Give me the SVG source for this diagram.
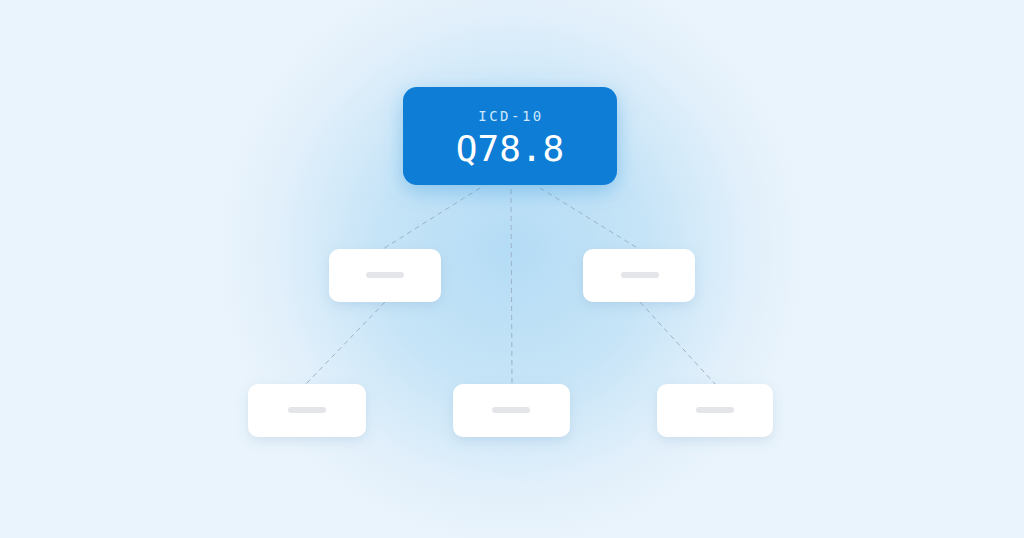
<svg xmlns="http://www.w3.org/2000/svg" width="1024" height="538" viewBox="0 0 1024 538">
<defs>
<radialGradient id="glow" cx="512" cy="250" r="300" gradientUnits="userSpaceOnUse">
<stop offset="0" stop-color="#b4dcf5"/>
<stop offset="0.45" stop-color="#c6e4f7"/>
<stop offset="0.8" stop-color="#e2f0fb"/>
<stop offset="1" stop-color="#eaf4fc"/>
</radialGradient>
<filter id="sh" x="-30%" y="-40%" width="160%" height="200%">
<feDropShadow dx="0" dy="4" stdDeviation="6" flood-color="#5a8db5" flood-opacity="0.18"/>
</filter>
<filter id="shTop" x="-30%" y="-40%" width="160%" height="200%">
<feDropShadow dx="0" dy="6" stdDeviation="10" flood-color="#0b7dd6" flood-opacity="0.3"/>
</filter>
<style>
.card{fill:#ffffff;filter:url(#sh)}
.bar{fill:#e3e5e8}
.conn{stroke:#9db3c6;stroke-width:1;stroke-dasharray:5 4;fill:none}
.mono{font-family:"DejaVu Sans Mono","Liberation Mono",monospace;text-anchor:middle}
</style>
</defs>
<rect width="1024" height="538" fill="#eaf4fc"/>
<rect width="1024" height="538" fill="url(#glow)"/>
<g id="connectors">
<line class="conn" x1="480" y1="188" x2="383" y2="249"/>
<line class="conn" x1="511" y1="189" x2="512" y2="383"/>
<line class="conn" x1="540" y1="188" x2="639" y2="249"/>
<line class="conn" x1="385" y1="302" x2="306" y2="384"/>
<line class="conn" x1="640" y1="302" x2="715" y2="384"/>
</g>
<g id="root">
<rect x="403" y="87" width="214" height="98" rx="14" fill="#0b7dd6" filter="url(#shTop)"/>
<text class="mono" x="511" y="121" font-size="14" letter-spacing="2.5" fill="#cfe7fb">ICD-10</text>
<text class="mono" x="510" y="161" font-size="36" fill="#ffffff">Q78.8</text>
</g>
<g id="mid-left">
<rect class="card" x="329" y="249" width="112" height="53" rx="10"/>
<rect class="bar" x="366" y="272" width="38" height="6" rx="3"/>
</g>
<g id="mid-right">
<rect class="card" x="583" y="249" width="112" height="53" rx="10"/>
<rect class="bar" x="621" y="272" width="38" height="6" rx="3"/>
</g>
<g id="bottom-left">
<rect class="card" x="248" y="384" width="118" height="53" rx="10"/>
<rect class="bar" x="288" y="407" width="38" height="6" rx="3"/>
</g>
<g id="bottom-middle">
<rect class="card" x="453" y="384" width="117" height="53" rx="10"/>
<rect class="bar" x="492" y="407" width="38" height="6" rx="3"/>
</g>
<g id="bottom-right">
<rect class="card" x="657" y="384" width="116" height="53" rx="10"/>
<rect class="bar" x="696" y="407" width="38" height="6" rx="3"/>
</g>
</svg>
